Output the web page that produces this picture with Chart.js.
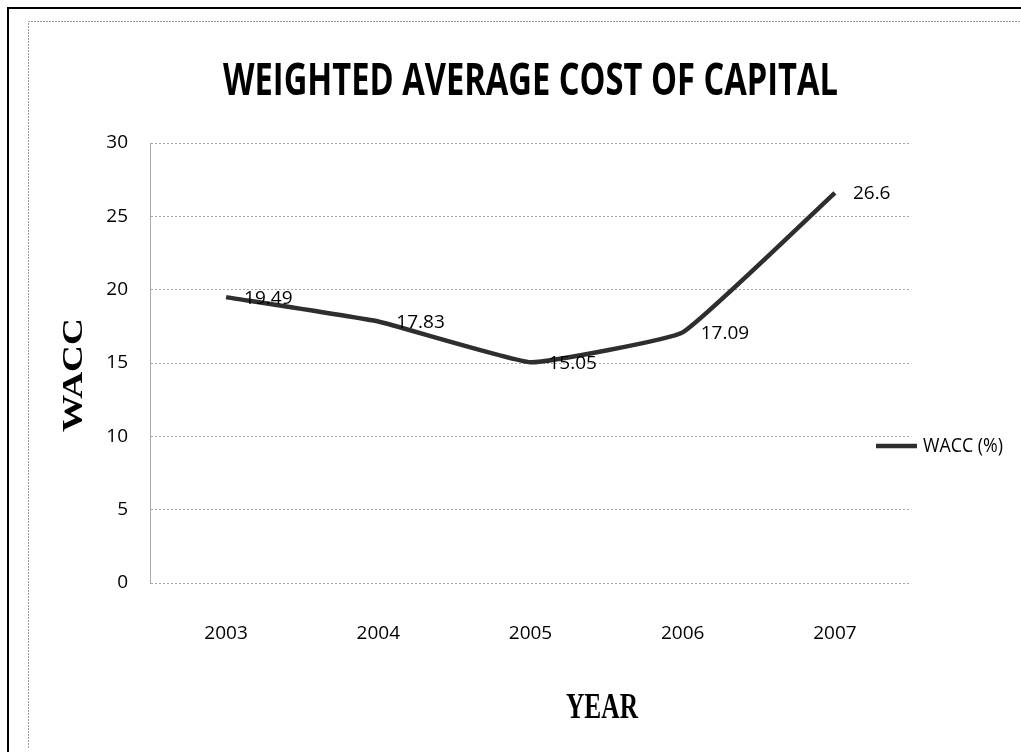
<!DOCTYPE html>
<html><head><meta charset="utf-8">
<script src="https://cdn.jsdelivr.net/npm/chart.js@4.4.0/dist/chart.umd.min.js"></script>
<style>html,body{margin:0;padding:0;background:#fff;}#c{display:block;}</style>
</head><body>
<canvas id="c" width="1021" height="752"></canvas>
<script>
// ---- data ----
const years = ['2003', '2004', '2005', '2006', '2007'];
const wacc = [19.49, 17.83, 15.05, 17.09, 26.6];
const yTickValues = [0, 5, 10, 15, 20, 25, 30];
const seriesName = 'WACC (%)';
const chartTitle = 'WEIGHTED AVERAGE COST OF CAPITAL';
const xTitle = 'YEAR';
const yTitle = 'WACC';

// ---- styles ----
const SANS = '"Liberation Sans Narrow", "Open Sans", sans-serif';
const SERIF = '"Liberation Serif", "DejaVu Serif", serif';
const LINE_COLOR = '#2e2e2e';
const GRID_COLOR = '#a8a8a8';

function fitText(ctx, text, x, y, width, align) {
  const w = ctx.measureText(text).width;
  const s = width / w;
  ctx.save();
  ctx.translate(x, y);
  ctx.scale(s, 1);
  ctx.textAlign = align || 'left';
  ctx.fillText(text, 0, 0);
  ctx.restore();
}

const decor = {
  id: 'decor',
  beforeDraw(chart) {
    const ctx = chart.ctx;
    ctx.save();
    ctx.fillStyle = '#fff';
    ctx.fillRect(0, 0, chart.width, chart.height);
    // outer black frame
    ctx.strokeStyle = '#000';
    ctx.lineWidth = 2;
    ctx.beginPath();
    ctx.moveTo(8, chart.height);
    ctx.lineTo(8, 8);
    ctx.lineTo(chart.width, 8);
    ctx.stroke();
    // inner dotted frame
    ctx.strokeStyle = '#9a9a9a';
    ctx.lineWidth = 1;
    ctx.setLineDash([2, 1]);
    ctx.beginPath();
    ctx.moveTo(28.5, chart.height - 4);
    ctx.lineTo(28.5, 21.5);
    ctx.lineTo(chart.width, 21.5);
    ctx.stroke();
    ctx.restore();
  },
  afterDraw(chart) {
    const ctx = chart.ctx;
    ctx.save();
    ctx.fillStyle = '#000';
    // title
    ctx.font = 'bold 44px ' + SANS;
    ctx.textBaseline = 'alphabetic';
    fitText(ctx, chartTitle, 223, 95, 615, 'left');
    // x title
    ctx.font = 'bold 36px ' + SERIF;
    fitText(ctx, xTitle, 602, 718, 72, 'center');
    // y title (rotated)
    ctx.save();
    ctx.translate(82, 375);
    ctx.rotate(-Math.PI / 2);
    ctx.font = 'bold 30px ' + SERIF;
    fitText(ctx, yTitle, 0, 0, 114, 'center');
    ctx.restore();
    // data labels
    const meta = chart.getDatasetMeta(0);
    ctx.font = '19px ' + SANS;
    ctx.textBaseline = 'middle';
    ctx.textAlign = 'left';
    meta.data.forEach((pt, i) => {
      ctx.fillText(String(chart.data.datasets[0].data[i]), pt.x + 18, pt.y + 1);
    });
    // legend
    const ds = chart.data.datasets[0];
    ctx.strokeStyle = ds.borderColor;
    ctx.lineWidth = ds.borderWidth;
    ctx.beginPath();
    ctx.moveTo(876, 446);
    ctx.lineTo(917, 446);
    ctx.stroke();
    ctx.font = '20px ' + SANS;
    ctx.textBaseline = 'middle';
    fitText(ctx, ds.label, 923, 446, 80, 'left');
    ctx.restore();
  }
};

new Chart(document.getElementById('c'), {
  type: 'line',
  data: {
    labels: years,
    datasets: [{
      label: seriesName,
      data: wacc,
      borderColor: LINE_COLOR,
      backgroundColor: LINE_COLOR,
      borderWidth: 4.5,
      pointRadius: 0,
      tension: 0.1,
      fill: false
    }]
  },
  options: {
    responsive: false,
    animation: false,
    events: [],
    layout: { padding: { left: 0, top: 143, right: 110, bottom: 0 } },
    plugins: { legend: { display: false }, title: { display: false }, tooltip: { enabled: false } },
    scales: {
      x: {
        type: 'category',
        offset: true,
        grid: { display: false, drawTicks: false },
        border: { display: false },
        ticks: { font: { family: SANS, size: 19 }, color: '#000', padding: 39, maxRotation: 0 },
        afterFit(s) { s.height = 752 - 583; }
      },
      y: {
        min: 0,
        max: 30,
        afterBuildTicks(s) { s.ticks = yTickValues.map(v => ({ value: v })); },
        grid: { color: GRID_COLOR, drawTicks: false, lineWidth: 1 },
        border: { display: true, color: GRID_COLOR, dash: [2, 2] },
        ticks: { font: { family: SANS, size: 19 }, color: '#000', padding: 22 },
        afterFit(s) { s.width = 150; }
      }
    }
  },
  plugins: [decor]
});
</script>
</body></html>
